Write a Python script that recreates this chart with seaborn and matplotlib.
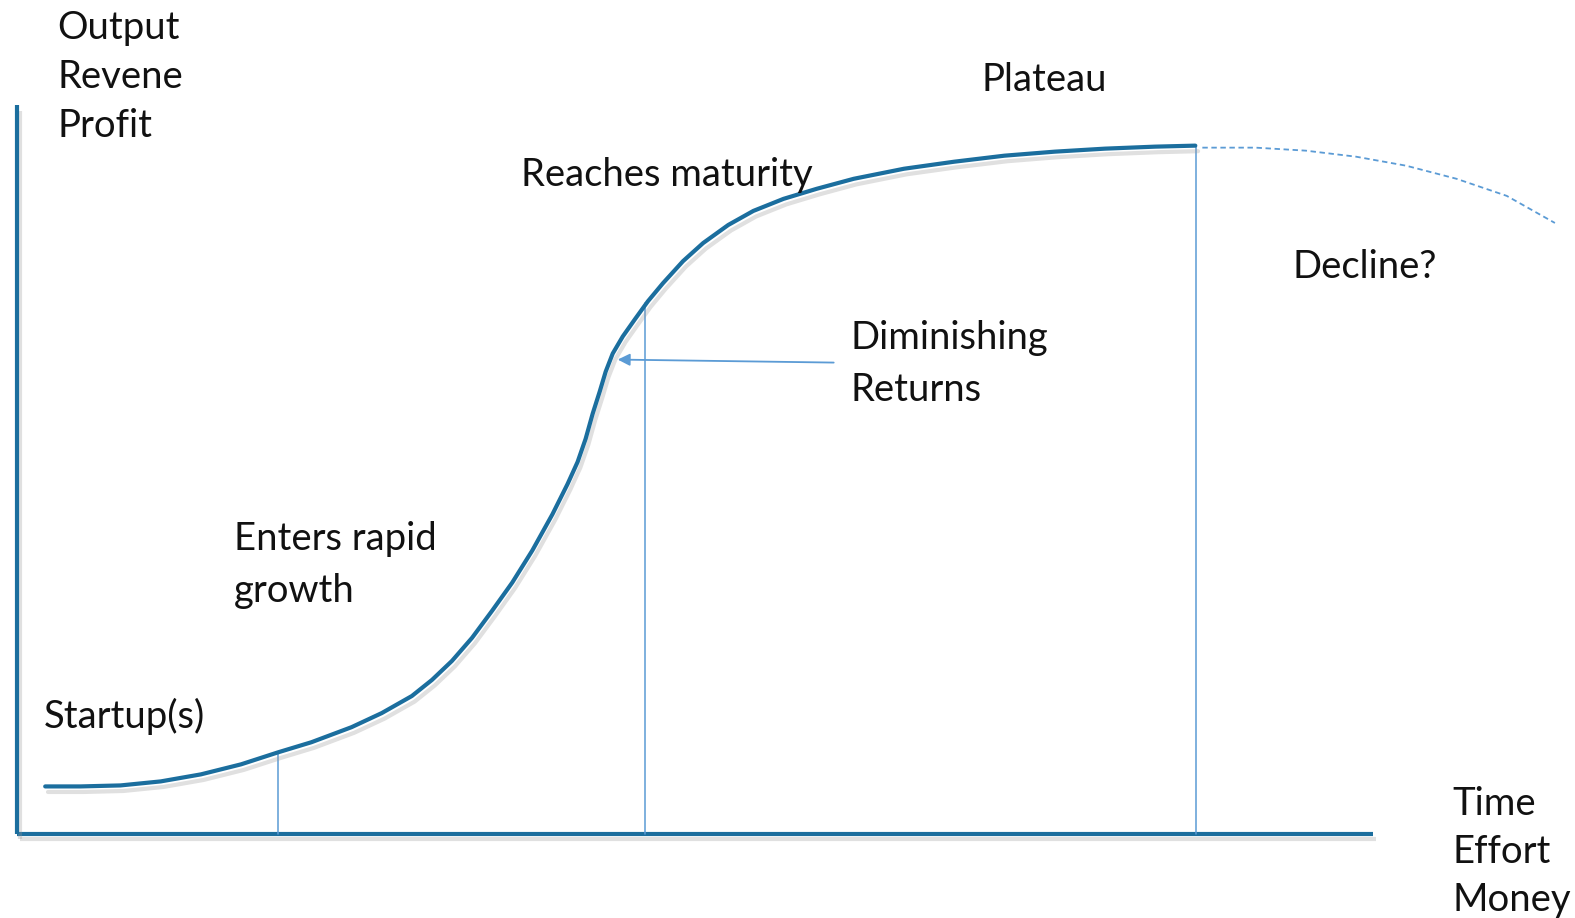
import numpy as np
import pandas as pd
import seaborn as sns
import matplotlib.pyplot as plt
import matplotlib.patheffects as pe

# =============================================================================
# DATA (image-pixel units)
# =============================================================================

curve_x = [45, 80, 120, 160, 200, 240, 277, 310, 350, 380, 410, 430, 450,
           470, 490, 510, 530, 550, 565, 575, 583, 590, 597, 603, 610, 620,
           632, 645, 660, 680, 700, 725, 750, 780, 813, 850, 900, 950, 1000,
           1050, 1100, 1150, 1190]
curve_y = [783, 783, 782, 778, 771, 761, 749, 739, 724, 710, 693, 677, 658,
           635, 608, 580, 548, 512, 482, 460, 437, 412, 390, 370, 352, 335,
           318, 300, 282, 260, 242, 224, 210, 198, 188, 178, 168, 161, 155,
           151, 148, 146, 145]

decline_x = [1197, 1250, 1300, 1350, 1400, 1450, 1500, 1548]
decline_y = [147, 147, 150, 156, 165, 178, 195, 222]

# stage markers dropped to the time axis
marker_x = [277, 642, 1191]
marker_top = [749, 302, 145]

axis_origin = (17, 830)
axis_ends = (1367, 105)

labels = [
    ("Output", 57, 28), ("Revene", 57, 77), ("Profit", 57, 125),
    ("Plateau", 977, 80),
    ("Reaches maturity", 519, 174),
    ("Decline?", 1287, 266),
    ("Diminishing", 847, 337), ("Returns", 847, 388),
    ("Enters rapid", 233, 537), ("growth", 233, 588),
    ("Startup(s)", 44, 713),
    ("Time", 1446, 800), ("Effort", 1446, 848), ("Money", 1446, 896),
]

arrow_from = (830, 361)
arrow_to = (615, 358)

# =============================================================================
# PLOT
# =============================================================================

sns.set_theme(style="white")
plt.rcParams["font.family"] = ["Lato", "DejaVu Sans"]

dark = "#1b6e9e"
light = "#5b9bd5"
shadow = [pe.SimpleLineShadow(offset=(2, -4), shadow_color="#999999", alpha=0.3),
          pe.Normal()]

fig = plt.figure(figsize=(15.75, 9.18), dpi=100)
ax = fig.add_axes([0, 0, 1, 1])
ax.set_xlim(0, 1568)
ax.set_ylim(914, 0)
ax.axis("off")

# axes lines
ox, oy = axis_origin
ex, ey = axis_ends
ax.plot([ox, ex], [oy, oy], color=dark, lw=3, solid_capstyle="butt", path_effects=shadow)
ax.plot([ox, ox], [oy, ey], color=dark, lw=3, solid_capstyle="butt", path_effects=shadow)

# vertical stage markers
for mx, mt in zip(marker_x, marker_top):
    ax.plot([mx, mx], [mt, oy], color=light, lw=1.1)

# S-curve
df = pd.DataFrame({"x": curve_x, "y": curve_y})
sns.lineplot(data=df, x="x", y="y", ax=ax, color=dark, lw=3, sort=False,
             estimator=None, path_effects=shadow)

# decline (dashed)
ax.plot(decline_x, decline_y, color=light, lw=1.3, ls=(0, (3, 2)))

# arrow
ax.annotate("", xy=arrow_to, xytext=arrow_from,
            arrowprops=dict(arrowstyle="-|>", color=light, lw=1.3,
                            mutation_scale=18, shrinkA=0, shrinkB=0))

for text, x, y in labels:
    ax.text(x, y, text, fontsize=27.5, color="#111111", ha="left", va="center")

ax.set_xlabel("")
ax.set_ylabel("")

plt.savefig("out.png", dpi=100)
